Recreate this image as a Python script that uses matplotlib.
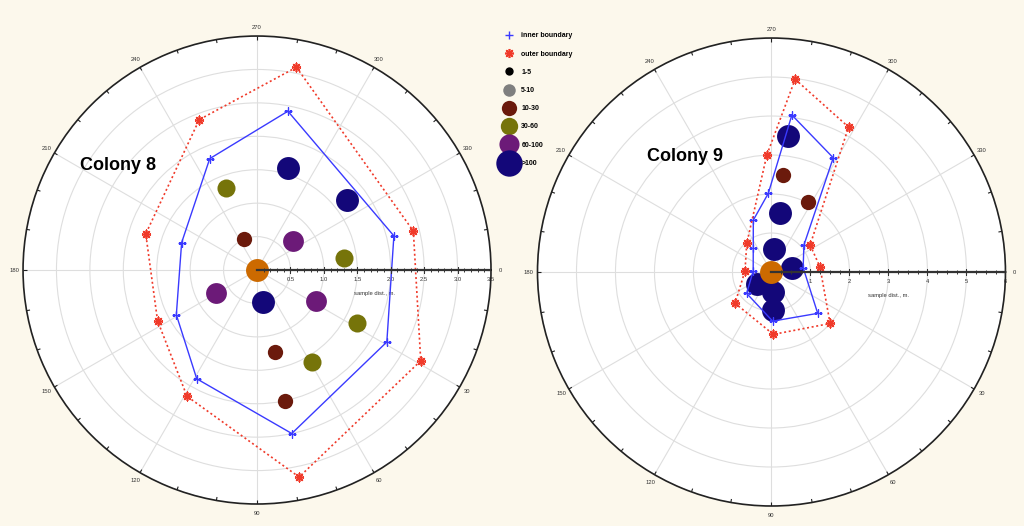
import numpy as np
import matplotlib
matplotlib.use("Agg")
import matplotlib.pyplot as plt
from matplotlib.lines import Line2D

plt.rcParams['font.family'] = ['Liberation Sans', 'DejaVu Sans']

# size classes (legend) and the colours used for them
classes = ['1-5', '5-10', '10-30', '30-60', '60-100', '>100']
class_colors = ['#000000', '#7f7f7f', '#6b1a0c', '#76740a', '#6c1a78', '#130779']
class_sizes = [6, 9, 11, 13, 15, 16.5]
legend_sizes = [6, 9, 11, 12.5, 14.5, 19]

# Colony 8 -- samples (angle in degrees, distance in m, size class)
c8_theta = [287, 322, 249, 247, 321, 352, 151, 79, 28, 28, 78, 59, 78]
c8_r = [1.60, 1.70, 1.31, 0.50, 0.70, 1.31, 0.70, 0.49, 1.00, 1.70, 1.26, 1.61, 2.00]
c8_cls = ['>100', '>100', '30-60', '10-30', '60-100', '30-60', '60-100',
          '>100', '60-100', '30-60', '10-30', '30-60', '10-30']
c8_inner_theta = [281, 346, 29, 78, 119, 151, 200, 247]
c8_inner_r = [2.42, 2.11, 2.22, 2.50, 1.86, 1.38, 1.20, 1.81]
c8_outer_theta = [281, 346, 29, 78.5, 119, 153, 198, 249]
c8_outer_r = [3.09, 2.41, 2.80, 3.16, 2.16, 1.67, 1.75, 2.41]
c8_rticks = [0.5, 1.0, 1.5, 2.0, 2.5, 3.0, 3.5]
c8_rlabels = ['0.5', '1.0', '1.5', '2.0', '2.5', '3.0', '3.5']

# Colony 9
c9_theta = [277, 277, 298, 278, 277, 348, 140, 85, 88]
c9_r = [3.52, 2.51, 2.02, 1.52, 0.59, 0.53, 0.49, 0.51, 0.97]
c9_cls = ['>100', '10-30', '10-30', '>100', '>100', '>100', '>100', '>100', '>100']
c9_inner_theta = [277.4, 298.4, 320.3, 352.3, 41.8, 88.6, 139.3, 183.1, 233.2, 250.7, 267.7]
c9_inner_r = [4.06, 3.33, 1.08, 0.82, 1.59, 1.26, 0.84, 0.47, 0.78, 1.41, 2.02]
c9_outer_theta = [277, 298, 325, 354, 41.3, 88.3, 139.4, 182.2, 229.2, 267.7]
c9_outer_r = [4.98, 4.21, 1.21, 1.25, 2.0, 1.6, 1.23, 0.68, 0.97, 3.0]
c9_rticks = [1, 2, 3, 4, 5, 6]
c9_rlabels = ['1', '2', '3', '4', '5', '6']

angle_ticks = list(range(0, 360, 30))

bg = '#fcf8ec'
inner_col = '#3a3aff'
outer_col = '#f03a2a'
centre_col = '#cc6a00'

fig = plt.figure(figsize=(10.24, 5.26), dpi=100, facecolor=bg)


def colony(rect, theta, r, cls, in_t, in_r, out_t, out_r, rticks, rlabels, minor):
    ax = fig.add_axes(rect, projection='polar')
    ax.set_facecolor('white')
    ax.set_theta_zero_location('E')
    ax.set_theta_direction(-1)
    rmax = rticks[-1]
    ax.set_rlim(0, rmax)
    ax.set_rticks(rticks)
    ax.set_yticklabels([])
    ax.set_thetagrids(angle_ticks, [str(a) for a in angle_ticks])
    ax.tick_params(axis='x', labelsize=4.2, pad=-4, colors='#333333')
    ax.grid(color='#dedede', lw=0.8)
    ax.spines['polar'].set_color('#222222')
    ax.spines['polar'].set_linewidth(1.2)

    # small ticks on the rim
    rim = np.deg2rad(np.arange(0, 360, 10))
    ax.vlines(rim, rmax * 0.985, rmax, color='#222222', lw=0.8)

    # radial axis along 0 degrees
    ax.plot([0, 0], [0, rmax], color='#333333', lw=1.6, zorder=6)
    minors = np.arange(minor, rmax, minor)
    ax.plot(np.zeros(len(minors)), minors,
            ls='none', marker='|', ms=2.5, mew=0.7, color='#333333', zorder=6)
    ax.plot(np.zeros(len(rticks)), rticks, ls='none', marker='|', ms=4,
            mew=0.8, color='#333333', zorder=6)
    for v, lab in zip(rticks, rlabels):
        ax.annotate(lab, (0, v), xytext=(0, -5), textcoords='offset points',
                    ha='center', va='top', fontsize=4.2, color='#333333')
    ax.annotate('sample dist., m.', (0, rmax / 2), xytext=(0, -15),
                textcoords='offset points', ha='center', va='top',
                fontsize=4.2, color='#333333')

    # samples
    for t, rr, c in zip(theta, r, cls):
        k = classes.index(c)
        ax.plot(np.deg2rad(t), rr, 'o', ms=class_sizes[k], color=class_colors[k],
                mec='none', zorder=3)
    ax.plot(0, 0, 'o', ms=16.5, color=centre_col, mec='none', zorder=4)

    # boundaries
    ti = np.deg2rad(in_t + in_t[:1])
    ax.plot(ti, in_r + in_r[:1], color=inner_col, lw=1.0, zorder=5)
    ax.plot(np.deg2rad(in_t), in_r, ls='none', marker='+', ms=6, mew=1.0,
            color=inner_col, zorder=5)
    to = np.deg2rad(out_t + out_t[:1])
    ax.plot(to, out_r + out_r[:1], color=outer_col, lw=1.2, ls=(0, (1.2, 1.6)), zorder=5)
    ax.plot(np.deg2rad(out_t), out_r, ls='none', marker=(8, 2, 0), ms=6.5, mew=1.2,
            color=outer_col, zorder=5)
    return ax


colony([0.0225, 0.0418, 0.457, 0.8897], c8_theta, c8_r, c8_cls,
       c8_inner_theta, c8_inner_r, c8_outer_theta, c8_outer_r,
       c8_rticks, c8_rlabels, 0.1)
colony([0.5249, 0.038, 0.457, 0.8897], c9_theta, c9_r, c9_cls,
       c9_inner_theta, c9_inner_r, c9_outer_theta, c9_outer_r,
       c9_rticks, c9_rlabels, 0.25)

fig.text(118 / 1024, 1 - 165 / 526, 'Colony 8', fontsize=13, fontweight='bold',
         ha='center', va='center')
fig.text(685 / 1024, 1 - 157 / 526, 'Colony 9', fontsize=13, fontweight='bold',
         ha='center', va='center')

handles = [Line2D([], [], ls='none', marker='+', ms=6, mew=1.0, color=inner_col),
           Line2D([], [], ls='none', marker=(8, 2, 0), ms=6.5, mew=1.2, color=outer_col)]
labels = ['inner boundary', 'outer boundary']
for c, col, s in zip(classes, class_colors, legend_sizes):
    handles.append(Line2D([], [], ls='none', marker='o', ms=s, color=col, mec='none'))
    labels.append(c)
fig.legend(handles, labels, loc='upper left', bbox_to_anchor=(497 / 1024, 1 - 26 / 526),
           frameon=False, prop={'weight': 'bold', 'size': 5},
           labelspacing=1.62, handlelength=1.6, handletextpad=1.0)

fig.savefig('out.png', dpi=100, facecolor=bg)
